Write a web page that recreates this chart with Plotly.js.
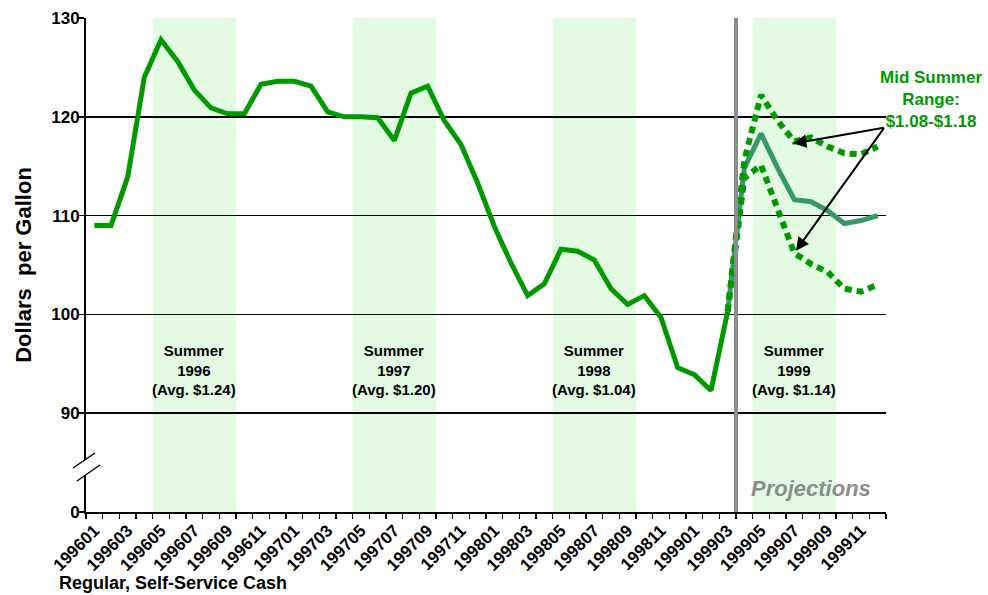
<!DOCTYPE html>
<html>
<head>
<meta charset="utf-8">
<script src="https://cdn.plot.ly/plotly-3.0.1.min.js"></script>
<style>html,body{margin:0;padding:0;background:#fff;}#chart{width:988px;height:595px;}</style>
</head>
<body>
<div id="chart"></div>
<script>
// ---- data ----
const months = ['199601','199602','199603','199604','199605','199606','199607','199608','199609','199610','199611','199612',
                '199701','199702','199703','199704','199705','199706','199707','199708','199709','199710','199711','199712',
                '199801','199802','199803','199804','199805','199806','199807','199808','199809','199810','199811','199812',
                '199901','199902','199903','199904','199905','199906','199907','199908','199909','199910','199911','199912'];
const actualPrice = [109.0,109.0,113.9,124.0,127.8,125.6,122.7,120.9,120.3,120.3,123.3,123.6,
                     123.6,123.1,120.5,120.0,120.0,119.9,117.6,122.4,123.1,119.6,117.2,113.3,
                     108.9,105.2,101.9,103.1,106.6,106.4,105.5,102.6,101.0,101.9,99.7,94.6,
                     93.9,92.3,100.3];
const projMonths = ['199903','199904','199905','199906','199907','199908','199909','199910','199911','199912'];
const projHigh = [100.3,115.6,122.2,119.6,117.5,117.9,117.0,116.3,116.2,117.0];
const projMid  = [100.3,114.8,118.3,114.8,111.6,111.4,110.5,109.2,109.5,110.0];
const projLow  = [100.3,113.8,115.1,110.6,106.2,105.1,104.3,102.6,102.3,103.0];
const tickLabels = months.filter((m,i)=>i%2===0);
const yTickVals = [80,90,100,110,120,130];
const yTickText = ['0','90','100','110','120','130'];
const summers = [['199605','199609'],['199705','199709'],['199805','199809'],['199905','199909']];
const summerLabels = ['Summer<br>1996<br>(Avg. $1.24)','Summer<br>1997<br>(Avg. $1.20)',
                      'Summer<br>1998<br>(Avg. $1.04)','Summer<br>1999<br>(Avg. $1.14)'];
const projectionStart = '199903';

// ---- helpers ----
const idx = m => months.indexOf(m);
const FONT = 'Liberation Sans, Arial, sans-serif';
const GREEN = '#009900';
const L = 86, R = 886, T = 18, B = 512;
const pxX = p => (p - L) / (R - L);               // pixel -> paper x
const pyV = p => 130 - (p - T) * 50 / (B - T);    // pixel -> y value

const traces = [
  {x: actualPrice.map((v,i)=>i), y: actualPrice, type:'scatter', mode:'lines',
   line:{color:GREEN, width:5}, hoverinfo:'skip', showlegend:false},
  {x: projMonths.map(idx), y: projMid, type:'scatter', mode:'lines',
   line:{color:'#339966', width:5}, showlegend:false},
  {x: projMonths.map(idx), y: projHigh, type:'scatter', mode:'lines',
   line:{color:GREEN, width:6, dash:'7px,5px'}, showlegend:false},
  {x: projMonths.map(idx), y: projLow, type:'scatter', mode:'lines',
   line:{color:GREEN, width:6, dash:'7px,5px'}, showlegend:false}
];

const shapes = summers.map(s => ({type:'rect', xref:'x', yref:'y', x0: idx(s[0])-0.5, x1: idx(s[1])+0.5,
  y0:80, y1:130, fillcolor:'#e2fbe2', line:{width:0}, layer:'below'}));
shapes.push({type:'line', xref:'x', yref:'y', x0: idx(projectionStart)+0.5, x1: idx(projectionStart)+0.5,
  y0:80, y1:130, line:{color:'#8c8c8c', width:4}, layer:'above'});
// axis break
shapes.push({type:'path', xref:'paper', yref:'y',
  path:`M ${pxX(73)} ${pyV(468)} L ${pxX(95)} ${pyV(453)} L ${pxX(100)} ${pyV(465)} L ${pxX(77)} ${pyV(481)} Z`,
  fillcolor:'#ffffff', line:{width:0}, layer:'above'});
shapes.push({type:'line', xref:'paper', yref:'y', x0:pxX(73), y0:pyV(468), x1:pxX(95), y1:pyV(453),
  line:{color:'#000', width:1.5}, layer:'above'});
shapes.push({type:'line', xref:'paper', yref:'y', x0:pxX(77), y0:pyV(481), x1:pxX(100), y1:pyV(465),
  line:{color:'#000', width:1.5}, layer:'above'});

const annotations = summers.map((s,k) => ({xref:'x', yref:'y', x:(idx(s[0])+idx(s[1]))/2, y:94.4,
  text: summerLabels[k], showarrow:false, font:{family:FONT, size:15, color:'#000', weight:'bold'},
  align:'center', xanchor:'center', yanchor:'middle'}));
annotations.push({xref:'paper', yref:'paper', x:pxX(811), y:(B-488)/(B-T), text:'<b><i>Projections</i></b>',
  showarrow:false, font:{family:FONT, size:22, color:'#8c8c8c'}, xanchor:'center', yanchor:'middle'});
annotations.push({xref:'paper', yref:'paper', x:pxX(931), y:(B-99)/(B-T),
  text:'Mid Summer<br>Range:<br>$1.08-$1.18', showarrow:false, align:'center',
  font:{family:FONT, size:17, color:GREEN, weight:'bold'}, xanchor:'center', yanchor:'middle'});
annotations.push({xref:'x', yref:'y', x:41.94, y:117.3, text:'', showarrow:true, axref:'pixel', ayref:'pixel',
  ax:92, ay:-16, arrowhead:2, arrowsize:1.3, arrowwidth:2, arrowcolor:'#000'});
annotations.push({xref:'x', yref:'y', x:42.1, y:106.45, text:'', showarrow:true, axref:'pixel', ayref:'pixel',
  ax:89, ay:-124, arrowhead:2, arrowsize:1.3, arrowwidth:2, arrowcolor:'#000'});
annotations.push({xref:'paper', yref:'paper', x:pxX(57), y:(B-583)/(B-T), text:'Regular, Self-Service Cash',
  showarrow:false, xanchor:'left', yanchor:'middle', font:{family:FONT, size:18, color:'#000', weight:'bold'}});

const layout = {
  width:988, height:595,
  margin:{l:L, r:988-R, t:T, b:595-B},
  paper_bgcolor:'#fff', plot_bgcolor:'#fff',
  showlegend:false,
  font:{family:FONT, color:'#000'},
  xaxis:{range:[-0.5, months.length-0.5], tickmode:'array',
    tickvals: months.map((m,i)=>i).filter(i=>i%2===0), ticktext: tickLabels,
    tickangle:-45, ticks:'', showline:true, linecolor:'#000', linewidth:2,
    showgrid:false, zeroline:false, fixedrange:true,
    tickfont:{family:FONT, size:17, color:'#000', weight:'bold'},
    minor:{ticks:'outside', ticklen:5, tickwidth:1.5, tickcolor:'#000', tick0:-0.5, dtick:1, showgrid:false}},
  yaxis:{range:[80,130], tickmode:'array', tickvals:yTickVals, ticktext:yTickText,
    ticks:'outside', ticklen:5, tickwidth:1.5, tickcolor:'#000', ticklabelstandoff:-4,
    showline:true, linecolor:'#000', linewidth:2,
    showgrid:true, gridcolor:'#000', gridwidth:1.5, zeroline:false, fixedrange:true,
    tickfont:{family:FONT, size:17, color:'#000', weight:'bold'},
    title:{text:'Dollars\u00a0\u00a0per Gallon', standoff:14,
      font:{family:FONT, size:22, color:'#000', weight:'bold'}}},
  shapes: shapes,
  annotations: annotations
};

Plotly.newPlot('chart', traces, layout, {displayModeBar:false, staticPlot:true});
</script>
</body>
</html>
